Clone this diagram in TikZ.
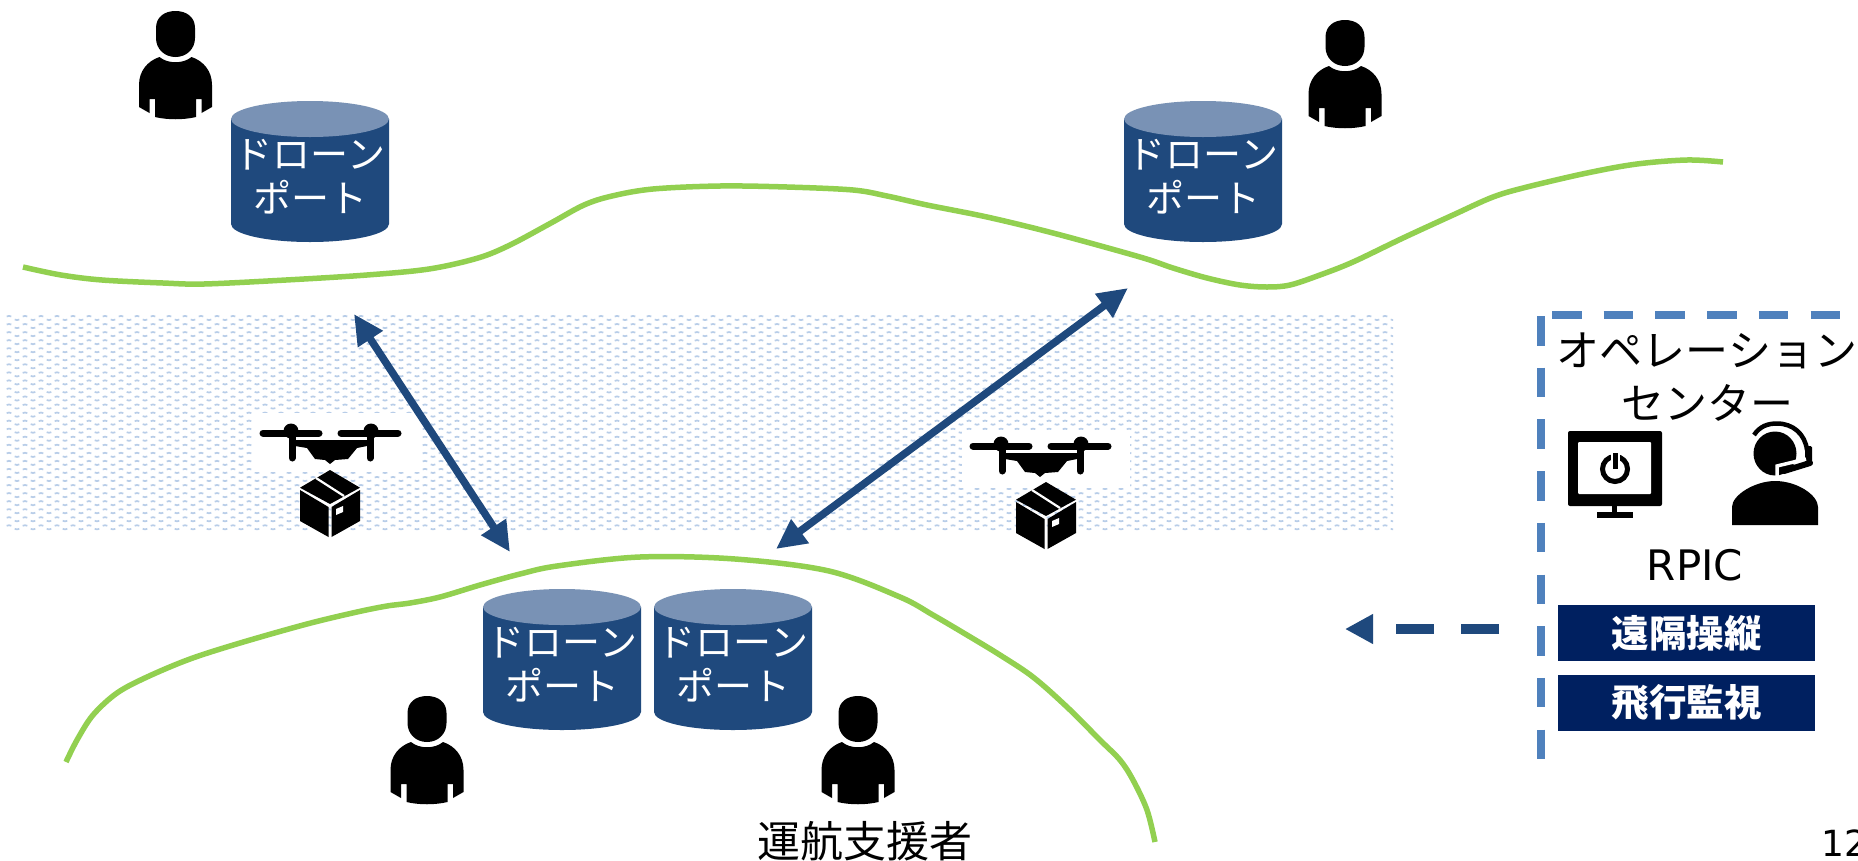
\documentclass[tikz,border=0pt]{standalone}
\usepackage{fontspec}
\setmainfont{DejaVu Sans}
\newfontfamily\cjk{Noto Sans CJK JP}
\usetikzlibrary{arrows.meta}
\definecolor{portbody}{HTML}{1F497D}
\definecolor{porttop}{HTML}{7992B5}
\definecolor{landgreen}{HTML}{92D050}
\definecolor{waterblue}{HTML}{B8CDE8}
\definecolor{boxblue}{HTML}{4F81BD}
\definecolor{barnavy}{HTML}{002060}
\tikzset{
  x=1pt,y=-1pt,
  land/.style={landgreen,line width=5.5pt},
  link/.style={portbody,line width=7.5pt,{Triangle[length=30pt,width=28pt]}-{Triangle[length=30pt,width=28pt]}},
  opdash/.style={boxblue,line width=7.5pt,dash pattern=on 29.5pt off 22.2pt},
  porttext/.style={text=white,align=center,font=\cjk\fontsize{38}{44}\selectfont,inner sep=0pt},
  optext/.style={text=black,align=center,font=\cjk\fontsize{43}{53}\selectfont,inner sep=0pt},
  taskbar/.style={fill=barnavy,text=white,minimum width=257pt,minimum height=56pt,inner sep=0pt,font=\cjk\bfseries\fontsize{37.5}{44}\selectfont},
  port/.pic={
    \fill[portbody] (-79,18) -- (-79,123) .. controls (-79,133) and (-44,141) .. (0,141)
      .. controls (44,141) and (79,133) .. (79,123) -- (79,18) -- cycle;
    \fill[porttop] (0,18) ellipse [x radius=79pt,y radius=18pt];
    \node[porttext] (-t) at (0,75.5) {ドローン\\ポート};
  },
  person/.pic={
    \fill (-19.5,17) .. controls (-19.5,6) and (-11,0) .. (0,0) .. controls (11,0) and (19.5,6) .. (19.5,17)
      -- (19.5,27) .. controls (19.5,38) and (11,46) .. (0,46) .. controls (-11,46) and (-19.5,38) .. (-19.5,27) -- cycle;
    \fill (-16,46) .. controls (-8,53) and (8,53) .. (16,46)
      .. controls (28,50) and (36.5,60) .. (36.5,74) -- (36.5,96) -- (26,102) -- (26,88) -- (20.5,88) -- (20.5,106)
      .. controls (8,109) and (-8,109) .. (-20.5,106) -- (-20.5,88) -- (-26,88) -- (-26,102) -- (-36.5,96) -- (-36.5,74)
      .. controls (-36.5,60) and (-28,50) .. (-16,46) -- cycle;
  },
  drone/.pic={
    \draw[line width=7pt,line cap=round] (-67,0) -- (-11,0) (11,0) -- (68,0);
    \fill (-39,-2) circle [radius=7.5pt] (41,-2) circle [radius=7.5pt];
    \draw[line width=7pt,line cap=round] (-38,-2) -- (-38,25) (40,-2) -- (40,25);
    \fill (-35,7) -- (37,7) -- (37,13) -- (27,15) -- (18,26) -- (5,27) -- (0,31) -- (-5,27) -- (-15,26) -- (-23,15) -- (-35,13) -- cycle;
  },
  parcel/.pic={
    \fill (0,0) -- (30,17.7) -- (0,34) -- (-30,17.7) -- cycle;
    \draw[white,line width=2.2pt] (-14,8) -- (14,26);
    \fill (-30,20) -- (-1.5,37) -- (-1.5,67) -- (-30,51) -- cycle;
    \fill (30,20) -- (1.5,37) -- (1.5,67) -- (30,51) -- cycle;
    \fill[white] (6,39) -- (13,36) -- (13,42) -- (6,45) -- cycle;
  },
}
\begin{document}
\begin{tikzpicture}
\useasboundingbox (0,0) rectangle (1858,860);
\fill[white] (0,0) rectangle (1858,860);
% water
\begin{scope}
\clip (5,312) rectangle (1393,530);
\foreach \r in {0,...,26}{
  \draw[waterblue,line width=1.7pt,line join=round] (5,318+8.05*\r)
    foreach \i in {1,...,87}{ ++(1.7,-1.5) -- ++(2.3,-0.6) -- ++(2.3,0.6) ++(1.7,1.5) ++(1.7,1.5) -- ++(2.3,0.6) -- ++(2.3,-0.6) ++(1.7,-1.5) };
}
\end{scope}
\fill[white] (252,413) rectangle (420,472);
\fill[white] (962,430) rectangle (1130,488);
% land
\draw[land] plot[smooth,tension=0.55] coordinates {(23,267) (61,275) (102,280) (163,283) (204,284) (286,280) (367,275) (429,269) (478,258) (510,245) (551,223) (584,205) (612,196) (653,189) (720,186) (787,187) (853,190) (887,196) (927,205) (987,217) (1053,233) (1140,257) (1173,268) (1207,278) (1240,285) (1267,287) (1290,285) (1320,275) (1353,262) (1403,238) (1453,215) (1493,197) (1527,187) (1587,173) (1637,164) (1687,160) (1723,162)};
\draw[land] plot[smooth,tension=0.55] coordinates {(66,762) (77,740) (93,715) (117,693) (147,677) (190,659) (240,643) (307,624) (357,612) (387,606) (410,603) (440,597) (480,585) (520,574) (557,566) (640,557) (735,559) (829,571) (900,597) (933,615) (967,635) (1000,655) (1033,677) (1067,707) (1100,740) (1120,760) (1133,780) (1147,810) (1155,842)};
% connectors
\coordinate (a1) at (354,314);
\coordinate (a2) at (510,552);
\coordinate (b1) at (1128,288);
\coordinate (b2) at (776,549);
\draw[link] (a1) -- (a2);
\draw[link] (b1) -- (b2);
\coordinate (remoteR) at (1499,629);
\coordinate (remoteL) at (1345,629);
\draw[portbody,line width=9.3pt,dash pattern=on 38pt off 27.5pt,-{Triangle[length=28pt,width=28pt]}] (remoteR) -- (remoteL);
% ports
\pic (p1) at (310,101) {port};
\pic (p2) at (1203,101) {port};
\pic (p3) at (562,589) {port};
\pic (p4) at (733,589) {port};
% persons
\pic at (175.5,11) {person};
\pic at (1345,20) {person};
\pic at (427,696) {person};
\pic at (858,696) {person};
% drones
\pic at (330,433) {drone};
\pic at (1040,446) {drone};
\pic at (330,470) {parcel};
\pic at (1046,482) {parcel};
\node[optext] (crew) at (865,841) {運航支援者};
% operation centre
\coordinate (vt) at (1541,316);
\coordinate (vb) at (1541,760);
\coordinate (ht) at (1552,315);
\coordinate (hr) at (1840,315);
\draw[opdash] (vt) -- (vb);
\draw[opdash] (ht) -- (hr);
\node[optext] (oc) at (1707,377) {オペレーション\\センター};
% monitor
\fill[rounded corners=2pt] (1568,431) rectangle (1662,506);
\fill[white,rounded corners=1pt] (1578,442) rectangle (1651,494);
\fill (1612,506) rectangle (1617,512);
\fill (1597,512) rectangle (1633,518);
\draw[line width=5pt] (1615,469) circle [radius=12.5pt];
\draw[white,line width=9pt] (1615,451) -- (1615,468);
\draw[line width=5pt] (1615,453) -- (1615,469);
% operator
\fill (1775,453.5) ellipse [x radius=21.5pt,y radius=22pt];
\fill (1732,525) -- (1732,507) .. controls (1732,495) and (1755,481) .. (1775,481) .. controls (1797,481) and (1818,495) .. (1818,507) -- (1818,525) -- cycle;
\draw[line width=4.5pt] (1754,435) .. controls (1760,426) and (1768,423.5) .. (1777,423.5) .. controls (1793,423.5) and (1805,434) .. (1807,450);
\fill[rounded corners=1.5pt] (1805,446) rectangle (1812,463);
\draw[white,line width=3.5pt] (1777,478) -- (1777,466) -- (1806,459);
\draw[line width=6pt,line cap=round] (1784,471) -- (1810,463);
\node[inner sep=0pt,font=\fontsize{42}{50}\selectfont] (rpic) at (1695,565) {RPIC};
\node[taskbar] (t1) at (1686.5,633) {遠隔操縦};
\node[taskbar] (t2) at (1686.5,703) {飛行監視};
\node[inner sep=0pt,anchor=base west,font=\fontsize{36}{44}\selectfont] (pg) at (1821,856) {12};
\end{tikzpicture}
\end{document}
